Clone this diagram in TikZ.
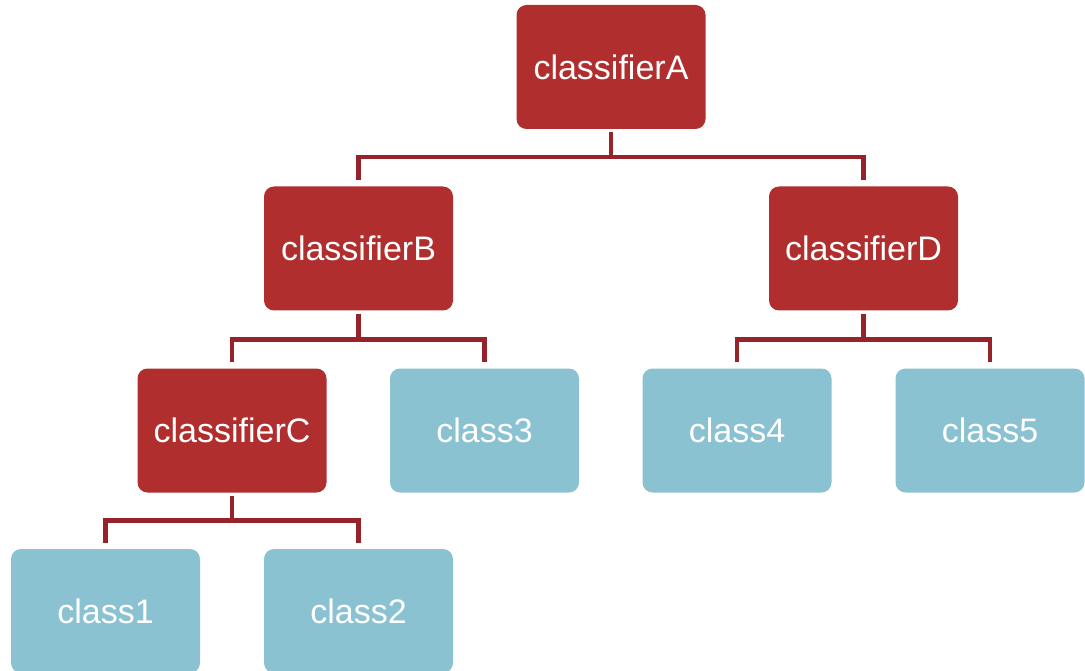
\documentclass[tikz,border=0pt]{standalone}
\usepackage{fontspec}
\setmainfont{Liberation Sans}
\definecolor{boxred}{HTML}{B02E2E}
\definecolor{linered}{HTML}{97232A}
\definecolor{boxblue}{HTML}{8BC2D2}
\begin{document}
\begin{tikzpicture}[x=1pt,y=-1pt,
  base/.style={rounded corners=10pt, minimum width=189pt, minimum height=124pt, inner sep=0pt,
    text=white, font=\fontsize{34}{40}\selectfont},
  cls/.style={base, fill=boxred},
  leaf/.style={base, fill=boxblue},
  conn/.style={draw=linered, line width=4.5pt, line join=miter, shorten <=3pt, shorten >=6pt}]
\useasboundingbox (0,0) rectangle (1085,671);
\node[cls]  (A) at (611,67) {classifierA};
\node[cls]  (B) at (358.5,248.5) {classifierB};
\node[cls]  (D) at (863.5,248.5) {classifierD};
\node[cls]  (C) at (232,430.5) {classifierC};
\node[leaf] (c3) at (484.5,430.5) {class3};
\node[leaf] (c4) at (737,430.5) {class4};
\node[leaf] (c5) at (990,430.5) {class5};
\node[leaf] (c1) at (105.5,611) {class1};
\node[leaf] (c2) at (358.5,611) {class2};
\draw[conn] (A.south) -- ++(0,28) -| (B.north);
\draw[conn] (A.south) -- ++(0,28) -| (D.north);
\draw[conn] (B.south) -- ++(0,29) -| (C.north);
\draw[conn] (B.south) -- ++(0,29) -| (c3.north);
\draw[conn] (D.south) -- ++(0,29) -| (c4.north);
\draw[conn] (D.south) -- ++(0,29) -| (c5.north);
\draw[conn] (C.south) -- ++(0,28) -| (c1.north);
\draw[conn] (C.south) -- ++(0,28) -| (c2.north);
\end{tikzpicture}
\end{document}
